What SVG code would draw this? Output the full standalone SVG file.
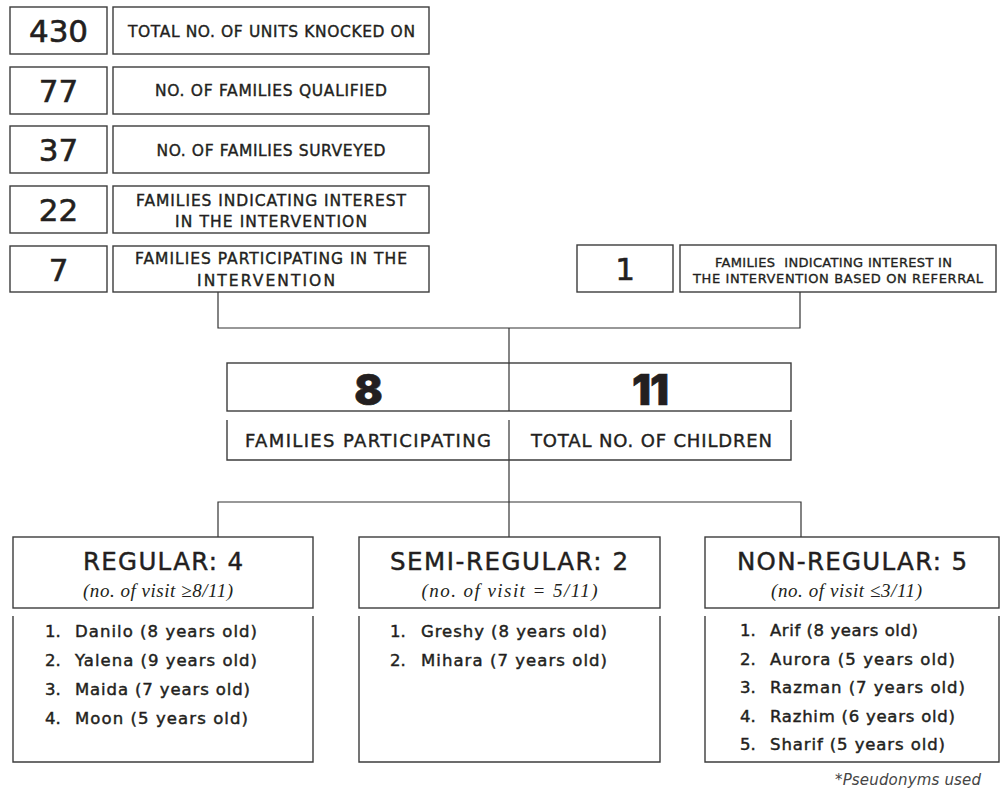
<svg xmlns="http://www.w3.org/2000/svg" width="1000" height="792" viewBox="0 0 1000 792">
<style>
.bx{fill:#fff;stroke:#3c3c3c;stroke-width:1.4}
.u{fill:none;stroke:#3c3c3c;stroke-width:1.4}
.cn{fill:none;stroke:#333;stroke-width:1.2}
text{font-family:"DejaVu Sans",Inter,sans-serif;fill:#231f20;stroke:#231f20;stroke-width:0.4}
.num{font-size:31px;text-anchor:middle;stroke-width:0.6}
.lab{font-size:15.5px;text-anchor:middle}
.labs{font-size:13px;text-anchor:middle;stroke-width:0.35}
.big{font-family:Inter,"DejaVu Sans",sans-serif;font-size:42px;font-weight:900;text-anchor:middle;stroke-width:0.6}
.cap{font-size:18px;text-anchor:middle}
.hd{font-size:24.5px;text-anchor:middle;stroke-width:0.45}
.it{font-family:"Liberation Serif","DejaVu Serif",serif;font-style:italic;font-size:19px;text-anchor:middle;stroke-width:0}
.li{font-size:16.5px;stroke-width:0.45}
.fn{font-size:15px;font-style:italic;fill:#444;stroke-width:0;text-anchor:end}
</style>
<g id="connectors">
<path class="cn" d="M218,292 V328 H800 V292"/>
<path class="cn" d="M509,328 V363"/>
<path class="cn" d="M509,420 V537"/>
<path class="cn" d="M218,537 V502 H801 V537"/>
</g>
<g id="row430">
<rect class="bx" x="10" y="7" width="97" height="47"/>
<text class="num" x="58.5" y="42">430</text>
<rect class="bx" x="113" y="7" width="316" height="47"/>
<text class="lab" x="271.5" y="37" textLength="287" lengthAdjust="spacing">TOTAL NO. OF UNITS KNOCKED ON</text>
</g>
<g id="row77">
<rect class="bx" x="10" y="67" width="97" height="47"/>
<text class="num" x="58.5" y="102">77</text>
<rect class="bx" x="113" y="67" width="316" height="47"/>
<text class="lab" x="271" y="96" textLength="232" lengthAdjust="spacing">NO. OF FAMILIES QUALIFIED</text>
</g>
<g id="row37">
<rect class="bx" x="10" y="126" width="97" height="47"/>
<text class="num" x="58.5" y="161">37</text>
<rect class="bx" x="113" y="126" width="316" height="47"/>
<text class="lab" x="271" y="156" textLength="229" lengthAdjust="spacing">NO. OF FAMILIES SURVEYED</text>
</g>
<g id="row22">
<rect class="bx" x="10" y="186" width="97" height="47"/>
<text class="num" x="58.5" y="221">22</text>
<rect class="bx" x="113" y="186" width="316" height="47"/>
<text class="lab" x="271" y="206" textLength="270" lengthAdjust="spacing">FAMILIES INDICATING INTEREST</text>
<text class="lab" x="271" y="227" textLength="192" lengthAdjust="spacing">IN THE INTERVENTION</text>
</g>
<g id="row7">
<rect class="bx" x="10" y="246" width="97" height="46"/>
<text class="num" x="58.5" y="281">7</text>
<rect class="bx" x="113" y="246" width="316" height="46"/>
<text class="lab" x="271" y="264" textLength="272" lengthAdjust="spacing">FAMILIES PARTICIPATING IN THE</text>
<text class="lab" x="266" y="286" textLength="138" lengthAdjust="spacing">INTERVENTION</text>
</g>
<g id="row1">
<rect class="bx" x="577" y="245" width="96" height="47"/>
<text class="num" x="625" y="280">1</text>
<rect class="bx" x="680" y="245" width="316" height="47"/>
<text class="labs" x="833.5" y="267" textLength="237" lengthAdjust="spacing" xml:space="preserve">FAMILIES  INDICATING INTEREST IN</text>
<text class="labs" x="838" y="283" textLength="290" lengthAdjust="spacing">THE INTERVENTION BASED ON REFERRAL</text>
</g>
<g id="summary">
<rect class="bx" x="227" y="363" width="564" height="48"/>
<line class="cn" x1="509" y1="363" x2="509" y2="411"/>
<text class="big" x="368.5" y="405">8</text>
<text class="big" x="650" y="405" letter-spacing="-1">11</text>
<path class="u" d="M227,420 V460 H791 V420"/>
<text class="cap" x="368" y="447" textLength="246" lengthAdjust="spacing">FAMILIES PARTICIPATING</text>
<text class="cap" x="651.5" y="447" textLength="241" lengthAdjust="spacing">TOTAL NO. OF CHILDREN</text>
</g>
<g id="regular">
<rect class="bx" x="13" y="537" width="300" height="71"/>
<text class="hd" x="163" y="570" textLength="160" lengthAdjust="spacing">REGULAR: 4</text>
<text class="it" x="158" y="597" textLength="150" lengthAdjust="spacing">(no. of visit ≥8/11)</text>
<path class="u" d="M13,616 V762 H313 V616"/>
<text class="li" x="45" y="637">1.</text><text class="li" x="75" y="637" textLength="182" lengthAdjust="spacing">Danilo (8 years old)</text>
<text class="li" x="45" y="666">2.</text><text class="li" x="75" y="666" textLength="182" lengthAdjust="spacing">Yalena (9 years old)</text>
<text class="li" x="45" y="695">3.</text><text class="li" x="75" y="695" textLength="175" lengthAdjust="spacing">Maida (7 years old)</text>
<text class="li" x="45" y="724">4.</text><text class="li" x="75" y="724" textLength="173" lengthAdjust="spacing">Moon (5 years old)</text>
</g>
<g id="semiregular">
<rect class="bx" x="359" y="537" width="301" height="71"/>
<text class="hd" x="509" y="570" textLength="238" lengthAdjust="spacing">SEMI-REGULAR: 2</text>
<text class="it" x="509.5" y="597" textLength="176" lengthAdjust="spacing">(no. of visit = 5/11)</text>
<path class="u" d="M359,616 V762 H660 V616"/>
<text class="li" x="390" y="637">1.</text><text class="li" x="421" y="637" textLength="186" lengthAdjust="spacing">Greshy (8 years old)</text>
<text class="li" x="390" y="666">2.</text><text class="li" x="421" y="666" textLength="186" lengthAdjust="spacing">Mihara (7 years old)</text>
</g>
<g id="nonregular">
<rect class="bx" x="705" y="537" width="294" height="71"/>
<text class="hd" x="852" y="570" textLength="230" lengthAdjust="spacing">NON-REGULAR: 5</text>
<text class="it" x="846.5" y="597" textLength="151" lengthAdjust="spacing">(no. of visit ≤3/11)</text>
<path class="u" d="M705,616 V762 H999 V616"/>
<text class="li" x="740" y="636">1.</text><text class="li" x="770" y="636" textLength="148" lengthAdjust="spacing">Arif (8 years old)</text>
<text class="li" x="740" y="665">2.</text><text class="li" x="770" y="665" textLength="185" lengthAdjust="spacing">Aurora (5 years old)</text>
<text class="li" x="740" y="693">3.</text><text class="li" x="770" y="693" textLength="195" lengthAdjust="spacing">Razman (7 years old)</text>
<text class="li" x="740" y="722">4.</text><text class="li" x="770" y="722" textLength="185" lengthAdjust="spacing">Razhim (6 years old)</text>
<text class="li" x="740" y="750">5.</text><text class="li" x="770" y="750" textLength="175" lengthAdjust="spacing">Sharif (5 years old)</text>
</g>
<text class="fn" x="981" y="785" textLength="146" lengthAdjust="spacing">*Pseudonyms used</text>
</svg>
